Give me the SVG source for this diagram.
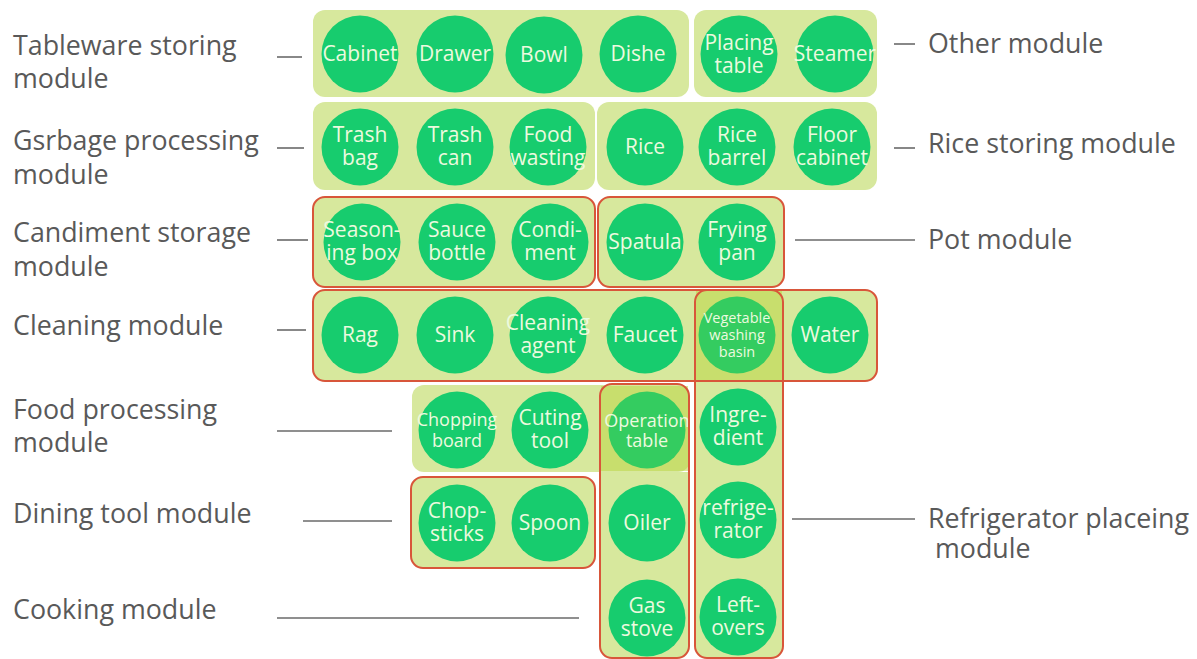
<svg xmlns="http://www.w3.org/2000/svg" width="1197" height="659" viewBox="0 0 1197 659">
<style>
.box{fill:#d7e89d}
.red{fill:none;stroke:#d8563a;stroke-width:2}
.tint{fill:#bcd546;opacity:0.55}
.c{fill:#17cc6e}
.cy{fill:#34cc60}
.t{font-family:"Open Sans","Noto Sans",sans-serif;font-size:21px;fill:#ecfadf;text-anchor:middle}
.ts{font-size:18px}
.tx{font-size:14.5px}
.lab{font-family:"Open Sans","Noto Sans",sans-serif;font-size:26.8px;fill:#595959}
.ln{stroke:#6a6a6a;stroke-width:1.6;fill:none}
</style>
<rect width="1197" height="659" fill="#ffffff"/>

<g id="module-boxes">
<g id="box-tableware"><rect class="box" x="313" y="10" width="376" height="87" rx="12"/></g>
<g id="box-other"><rect class="box" x="694" y="10" width="183" height="87" rx="12"/></g>
<g id="box-garbage"><rect class="box" x="313" y="102" width="282" height="88" rx="12"/></g>
<g id="box-rice"><rect class="box" x="597" y="102" width="280" height="88" rx="12"/></g>
<g id="box-candiment"><rect class="box" x="313" y="197" width="282" height="90" rx="12"/></g>
<g id="box-pot"><rect class="box" x="598" y="197" width="186" height="90" rx="12"/></g>
<g id="box-cleaning"><rect class="box" x="313" y="290" width="564" height="91" rx="12"/></g>
<g id="box-food"><rect class="box" x="412" y="385" width="278" height="87" rx="12"/></g>
<g id="box-dining"><rect class="box" x="411" y="477" width="184" height="91" rx="12"/></g>
<g id="box-cooking"><rect class="box" x="600" y="472" width="89" height="150"/><rect class="box" x="600" y="600" width="89" height="58" rx="12"/></g>
<g id="box-refrigerator"><rect class="box" x="695" y="381" width="88" height="240"/><rect class="box" x="695" y="600" width="88" height="58" rx="12"/></g>
</g>

<g id="overlaps">
<rect class="tint" x="696" y="291" width="86" height="89"/>
<rect class="tint" x="601" y="386" width="87" height="85"/>
</g>

<g id="items">
<g id="n-cabinet"><circle class="c" cx="360" cy="54" r="38.5"/><text class="t" x="360" y="61">Cabinet</text></g>
<g id="n-drawer"><circle class="c" cx="455" cy="54" r="38.5"/><text class="t" x="455" y="61">Drawer</text></g>
<g id="n-bowl"><circle class="c" cx="544" cy="55" r="38.5"/><text class="t" x="544" y="62">Bowl</text></g>
<g id="n-dishe"><circle class="c" cx="638" cy="54" r="38.5"/><text class="t" x="638" y="61">Dishe</text></g>
<g id="n-placing"><circle class="c" cx="739" cy="54" r="38.5"/><text class="t" x="739" y="50">Placing</text><text class="t" x="739" y="73">table</text></g>
<g id="n-steamer"><circle class="c" cx="835" cy="54" r="38.5"/><text class="t" x="835" y="61">Steamer</text></g>

<g id="n-trashbag"><circle class="c" cx="360" cy="147" r="38.5"/><text class="t" x="360" y="142">Trash</text><text class="t" x="360" y="165">bag</text></g>
<g id="n-trashcan"><circle class="c" cx="455" cy="147" r="38.5"/><text class="t" x="455" y="142">Trash</text><text class="t" x="455" y="165">can</text></g>
<g id="n-foodwasting"><circle class="c" cx="548" cy="147" r="38.5"/><text class="t" x="548" y="142">Food</text><text class="t" x="548" y="165">wasting</text></g>
<g id="n-rice"><circle class="c" cx="645" cy="147" r="38.5"/><text class="t" x="645" y="154">Rice</text></g>
<g id="n-ricebarrel"><circle class="c" cx="737" cy="147" r="38.5"/><text class="t" x="737" y="142">Rice</text><text class="t" x="737" y="165">barrel</text></g>
<g id="n-floorcabinet"><circle class="c" cx="832" cy="147" r="38.5"/><text class="t" x="832" y="142">Floor</text><text class="t" x="832" y="165">cabinet</text></g>

<g id="n-seasoning"><circle class="c" cx="362" cy="242" r="38.5"/><text class="t" x="362" y="237">Season-</text><text class="t" x="362" y="260">ing box</text></g>
<g id="n-sauce"><circle class="c" cx="457" cy="242" r="38.5"/><text class="t" x="457" y="237">Sauce</text><text class="t" x="457" y="260">bottle</text></g>
<g id="n-condiment"><circle class="c" cx="550" cy="242" r="38.5"/><text class="t" x="550" y="237">Condi-</text><text class="t" x="550" y="260">ment</text></g>
<g id="n-spatula"><circle class="c" cx="645" cy="242" r="38.5"/><text class="t" x="645" y="249">Spatula</text></g>
<g id="n-fryingpan"><circle class="c" cx="737" cy="242" r="38.5"/><text class="t" x="737" y="237">Frying</text><text class="t" x="737" y="260">pan</text></g>

<g id="n-rag"><circle class="c" cx="360" cy="335" r="38.5"/><text class="t" x="360" y="342">Rag</text></g>
<g id="n-sink"><circle class="c" cx="455" cy="335" r="38.5"/><text class="t" x="455" y="342">Sink</text></g>
<g id="n-cleaningagent"><circle class="c" cx="548" cy="335" r="38.5"/><text class="t" x="548" y="330">Cleaning</text><text class="t" x="548" y="353">agent</text></g>
<g id="n-faucet"><circle class="c" cx="645" cy="335" r="38.5"/><text class="t" x="645" y="342">Faucet</text></g>
<g id="n-vegbasin"><circle class="cy" cx="737" cy="335" r="38.5"/><text class="t tx" x="737" y="323">Vegetable</text><text class="t tx" x="737" y="340">washing</text><text class="t tx" x="737" y="357">basin</text></g>
<g id="n-water"><circle class="c" cx="830" cy="335" r="38.5"/><text class="t" x="830" y="342">Water</text></g>

<g id="n-chopping"><circle class="c" cx="457" cy="430" r="38.5"/><text class="t ts" x="457" y="426">Chopping</text><text class="t ts" x="457" y="447">board</text></g>
<g id="n-cuting"><circle class="c" cx="550" cy="430" r="38.5"/><text class="t" x="550" y="425">Cuting</text><text class="t" x="550" y="448">tool</text></g>
<g id="n-operation"><circle class="cy" cx="647" cy="430" r="38.5"/><text class="t ts" x="647" y="427">Operation</text><text class="t ts" x="647" y="447">table</text></g>
<g id="n-ingredient"><circle class="c" cx="738" cy="427" r="38.5"/><text class="t" x="738" y="422">Ingre-</text><text class="t" x="738" y="445">dient</text></g>

<g id="n-chopsticks"><circle class="c" cx="457" cy="523" r="38.5"/><text class="t" x="457" y="518">Chop-</text><text class="t" x="457" y="541">sticks</text></g>
<g id="n-spoon"><circle class="c" cx="550" cy="523" r="38.5"/><text class="t" x="550" y="530">Spoon</text></g>
<g id="n-oiler"><circle class="c" cx="647" cy="523" r="38.5"/><text class="t" x="647" y="530">Oiler</text></g>
<g id="n-refrigerator"><circle class="c" cx="738" cy="520" r="38.5"/><text class="t" x="738" y="515">refrige-</text><text class="t" x="738" y="538">rator</text></g>

<g id="n-gasstove"><circle class="c" cx="647" cy="618" r="38.5"/><text class="t" x="647" y="613">Gas</text><text class="t" x="647" y="636">stove</text></g>
<g id="n-leftovers"><circle class="c" cx="738" cy="617" r="38.5"/><text class="t" x="738" y="612">Left-</text><text class="t" x="738" y="635">overs</text></g>
</g>

<g id="module-outlines">
<rect class="red" x="313" y="197" width="282" height="90" rx="12"/>
<rect class="red" x="598" y="197" width="186" height="90" rx="12"/>
<rect class="red" x="313" y="290" width="564" height="91" rx="12"/>
<rect class="red" x="411" y="477" width="184" height="91" rx="12"/>
<rect class="red" x="600" y="384" width="89" height="274" rx="12"/>
<rect class="red" x="695" y="290" width="88" height="368" rx="12"/>
</g>

<g id="connectors">
<line class="ln" x1="277" y1="57" x2="302" y2="57"/>
<line class="ln" x1="277" y1="148" x2="304" y2="148"/>
<line class="ln" x1="277" y1="240" x2="308" y2="240"/>
<line class="ln" x1="277" y1="330" x2="306" y2="330"/>
<line class="ln" x1="277" y1="431" x2="392" y2="431"/>
<line class="ln" x1="303" y1="521" x2="392" y2="521"/>
<line class="ln" x1="277" y1="618" x2="579" y2="618"/>
<line class="ln" x1="894" y1="44" x2="915" y2="44"/>
<line class="ln" x1="894" y1="148" x2="915" y2="148"/>
<line class="ln" x1="795" y1="240" x2="915" y2="240"/>
<line class="ln" x1="792" y1="519" x2="915" y2="519"/>
</g>

<g id="labels">
<text class="lab" x="13" y="55">Tableware storing</text>
<text class="lab" x="13" y="88">module</text>
<text class="lab" x="13" y="150">Gsrbage processing</text>
<text class="lab" x="13" y="184">module</text>
<text class="lab" x="13" y="242">Candiment storage</text>
<text class="lab" x="13" y="276">module</text>
<text class="lab" x="13" y="335">Cleaning module</text>
<text class="lab" x="13" y="419">Food processing</text>
<text class="lab" x="13" y="452">module</text>
<text class="lab" x="13" y="523">Dining tool module</text>
<text class="lab" x="13" y="619">Cooking module</text>
<text class="lab" x="928" y="53">Other module</text>
<text class="lab" x="928" y="153">Rice storing module</text>
<text class="lab" x="928" y="249">Pot module</text>
<text class="lab" x="928" y="528">Refrigerator placeing</text>
<text class="lab" x="935" y="558">module</text>
</g>
</svg>
